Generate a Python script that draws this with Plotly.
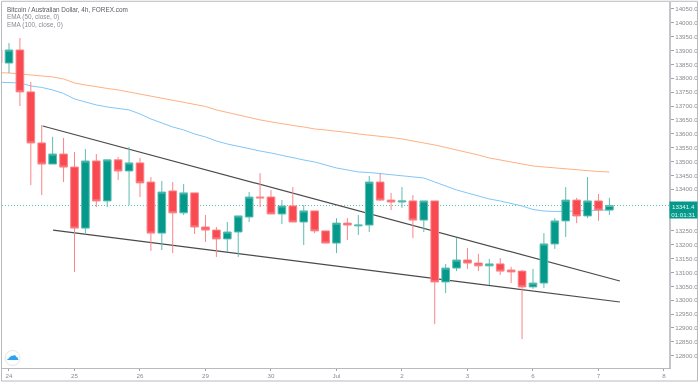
import plotly.graph_objects as go

# Candle positions on the 4h axis
index = list(range(-1, 56))
open_ = [13902, 13855, 13902, 13751, 13567, 13491, 13527, 13480, 13260, 13502, 13358, 13506, 13466, 13495, 13426, 13242, 13394, 13315, 13387, 13264, 13253,
         13221, 13246, 13300, 13372, 13372, 13311, 13340, 13282, 13322, 13250, 13206, 13278, 13268, 13271, 13426, 13361, 13354, 13358, 13289, 13358,
         13066, 13116, 13145, 13134, 13124, 13131, 13109, 13105, 13048, 13062, 13203, 13286, 13361, 13304, 13358, 13325]
high = [13910, 13927, 13945, 13787, 13632, 13589, 13585, 13534, 13545, 13527, 13506, 13516, 13552, 13513, 13444, 13430, 13426, 13419, 13387, 13307, 13264,
        13282, 13304, 13390, 13458, 13397, 13361, 13408, 13343, 13322, 13250, 13296, 13296, 13307, 13448, 13458, 13387, 13408, 13379, 13358, 13358,
        13131, 13224, 13188, 13167, 13149, 13152, 13120, 13109, 13113, 13242, 13296, 13408, 13369, 13444, 13383, 13369]
low = [13840, 13819, 13700, 13415, 13379, 13491, 13426, 13102, 13242, 13336, 13336, 13433, 13343, 13372, 13178, 13181, 13170, 13307, 13239, 13210, 13156,
       13174, 13156, 13282, 13336, 13311, 13275, 13282, 13199, 13242, 13206, 13170, 13217, 13235, 13246, 13358, 13325, 13333, 13224, 13246, 12914,
       13026, 13105, 13113, 13105, 13055, 13091, 13062, 12860, 13041, 13044, 13185, 13228, 13278, 13296, 13286, 13307]
close = [13855, 13902, 13751, 13567, 13491, 13527, 13480, 13260, 13502, 13358, 13506, 13466, 13495, 13423, 13242, 13390, 13315, 13387, 13264, 13253, 13221,
         13246, 13304, 13372, 13369, 13311, 13340, 13282, 13322, 13250, 13206, 13278, 13271, 13271, 13426, 13361, 13354, 13358, 13289, 13358, 13066,
         13116, 13145, 13134, 13124, 13131, 13105, 13102, 13048, 13062, 13203, 13286, 13361, 13304, 13358, 13325, 13341.4]

ema_50 = [13786, 13785, 13783.2, 13772.4, 13767, 13758, 13745.3, 13725.5, 13714.7, 13704, 13696.7, 13691, 13686, 13671.4, 13653.4, 13639, 13624.6, 13613.8,
          13599.3, 13588.5, 13574, 13563.3, 13554.3, 13545.3, 13538, 13530.8, 13521.8, 13512.8, 13505.6, 13498.4, 13487.6, 13476.8, 13469.6, 13462.4, 13460.5,
          13457, 13451.5, 13448, 13444.3, 13440.7, 13426.3, 13412, 13397.5, 13386.7, 13376, 13365, 13357.8, 13348.8, 13339.8, 13327, 13321.7, 13319.9, 13319.9,
          13321.7, 13323.5, 13323.5, 13325.3]
ema_100 = [13820, 13819.2, 13815.6, 13812, 13808.4, 13804.8, 13797.6, 13783.2, 13776, 13768.8, 13763.4, 13758, 13750.8, 13743.5, 13736.3, 13729, 13722, 13713,
           13706, 13698.5, 13686, 13677, 13666, 13657, 13650, 13643, 13635.4, 13630, 13624.6, 13617.4, 13613.8, 13610, 13604.7, 13599.3, 13595.7, 13592, 13586.7,
           13581.3, 13574, 13568.7, 13559.7, 13550.7, 13541.6, 13534.4, 13523.6, 13512.8, 13505.6, 13496.6, 13491, 13484, 13480.4, 13476.8, 13473, 13469.6,
           13467.7, 13464, 13462.4]

trend_upper_x = [3.09, 55.96]
trend_upper_y = [13628, 13069.4]
trend_lower_x = [4.04, 55.96]
trend_lower_y = [13253, 12993.7]

last_price = 13341.4
countdown = "01:01:31"

x_tick_vals = [0, 6, 12, 18, 24, 30, 36, 42, 48, 54, 60]
x_tick_text = ["24", "25", "26", "29", "30", "Jul", "2", "3", "6", "7", "8"]
y_tick_vals = [12800, 12850, 12900, 12950, 13000, 13050, 13100, 13150, 13200, 13250, 13400, 13450, 13500,
               13550, 13600, 13650, 13700, 13750, 13800, 13850, 13900, 13950, 14000, 14050]

x_range = [-0.64, 60.46]
y_range = [12755.8, 14075]

RED = "#f84a50"
GREEN = "#04998a"
RED_WICK = "#fa8488"
GREEN_WICK = "#5dbdb2"
GRAY = "#8a8a92"
FONT = "Liberation Sans"

fig = go.Figure()
fig.add_trace(go.Scatter(x=trend_upper_x, y=trend_upper_y, mode="lines", line=dict(color="#4a4a4a", width=1.2), hoverinfo="skip"))
fig.add_trace(go.Scatter(x=trend_lower_x, y=trend_lower_y, mode="lines", line=dict(color="#4a4a4a", width=1.2), hoverinfo="skip"))
fig.add_trace(go.Scatter(x=index, y=ema_100, mode="lines", line=dict(color="#ffb083", width=1), hoverinfo="skip"))
fig.add_trace(go.Scatter(x=index, y=ema_50, mode="lines", line=dict(color="#82c6f8", width=1), hoverinfo="skip"))
fig.add_trace(go.Candlestick(
    x=index, open=open_, high=high, low=low, close=close, xaxis="x2", yaxis="y2",
    increasing=dict(line=dict(color=GREEN_WICK, width=1), fillcolor=GREEN),
    decreasing=dict(line=dict(color=RED_WICK, width=1), fillcolor=RED),
    hoverinfo="skip",
))

annotations = [
    dict(x=5, y=9.5, text="Bitcoin / Australian Dollar, 4h, FOREX.com", font=dict(size=6.4, color="#5a5a62")),
    dict(x=5, y=17, text="EMA (50, close, 0)", font=dict(size=6.4, color="#8a8a92")),
    dict(x=5, y=24.6, text="EMA (100, close, 0)", font=dict(size=6.4, color="#8a8a92")),
]
annos = []
for a in annotations:
    annos.append(dict(xref="paper", yref="paper", x=(a["x"] - 2) / 667, y=1 - (a["y"] - 2) / 366, text=a["text"],
                      showarrow=False, xanchor="left", yanchor="middle", font=dict(family=FONT, **a["font"])))
# price label and countdown on the right axis
annos.append(dict(xref="paper", yref="y", x=1, y=last_price, text=f"{last_price:.1f}", showarrow=False, xanchor="left", yanchor="middle",
                  bgcolor=GREEN, width=27, height=8, borderpad=0, font=dict(family=FONT, size=6.2, color="#e8f6f4")))
annos.append(dict(xref="paper", yref="y", x=1, y=13310, text=countdown, showarrow=False, xanchor="left", yanchor="middle",
                  bgcolor=GREEN, width=27, height=8, borderpad=0, font=dict(family=FONT, size=6.2, color="#e8f6f4")))
# cloud logo
annos.append(dict(xref="paper", yref="paper", x=10 / 667, y=12.5 / 366, text="\u2601", showarrow=False, xanchor="center", yanchor="middle",
                  font=dict(family="DejaVu Sans", size=13, color="#2aa4ee")))

shapes = [
    dict(type="line", xref="paper", yref="y", x0=0, x1=1, y0=last_price, y1=last_price, layer="below",
         line=dict(color="#4fc4b6", width=1, dash="1px,2px")),
    # logo disc
    dict(type="circle", xref="paper", yref="paper", x0=3 / 667, x1=18 / 667, y0=2.5 / 366, y1=17.5 / 366, layer="below",
         fillcolor="white", line=dict(color="#e6e6ea", width=1)),
    # outer frame
    dict(type="rect", xref="paper", yref="paper", x0=-0.5 / 667, x1=695.5 / 667, y0=-13 / 366, y1=1.002,
         fillcolor="rgba(0,0,0,0)", line=dict(color="#b9b9c0", width=1)),
]

fig.update_layout(
    width=699, height=384, margin=dict(l=2, r=30, t=2, b=16),
    paper_bgcolor="white", plot_bgcolor="white", showlegend=False, boxgap=0, boxgroupgap=0.3,
    font=dict(family=FONT, size=6.2, color=GRAY),
    annotations=annos, shapes=shapes,
    xaxis=dict(range=x_range, tickmode="array", tickvals=x_tick_vals, ticktext=x_tick_text, showgrid=False, zeroline=False,
               ticks="outside", ticklen=2, tickcolor="#a0a0a8", tickfont=dict(size=6.2, color=GRAY),
               showline=True, linecolor="#b9b9c0", linewidth=1, rangeslider=dict(visible=False)),
    yaxis=dict(range=y_range, side="right", tickmode="array", tickvals=y_tick_vals, tickformat=".1f", showgrid=False, zeroline=False,
               ticks="outside", ticklen=3, tickcolor="#a0a0a8", tickfont=dict(size=6.2, color=GRAY),
               showline=True, linecolor="#c4c4ca", linewidth=2),
    xaxis2=dict(range=x_range, overlaying="x", visible=False, rangeslider=dict(visible=False)),
    yaxis2=dict(range=y_range, overlaying="y", visible=False),
)

fig.write_html("out.html", config=dict(displayModeBar=False),
               post_script="document.body.style.margin='0';document.body.style.filter='blur(0.35px)';")
